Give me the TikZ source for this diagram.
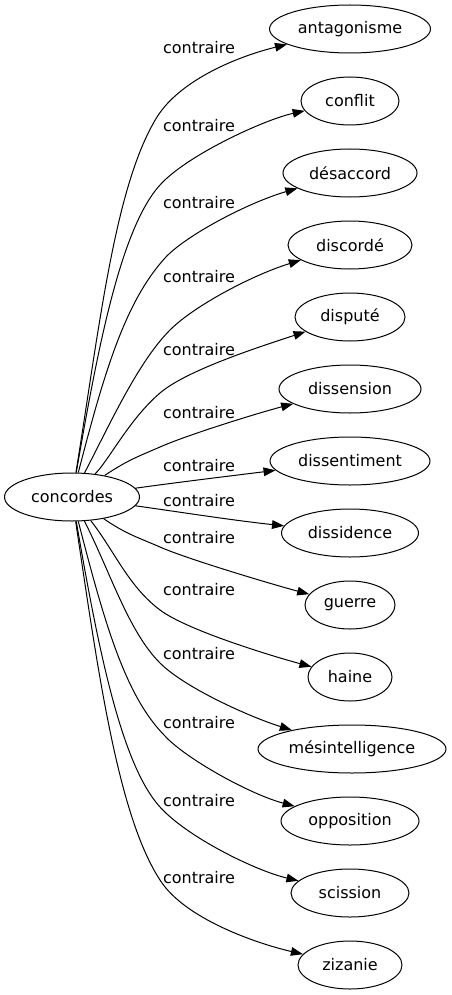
\documentclass[tikz,border=0pt]{standalone}
\usepackage{fontspec}
\setmainfont{DejaVu Sans}
\usetikzlibrary{shapes.geometric,arrows.meta}
\begin{document}
\begin{tikzpicture}[x=0.75pt,y=-0.75pt,
  nd/.style={draw,ellipse,inner sep=0pt,minimum height=36pt,line width=0.75pt,font=\fontsize{12pt}{14pt}\selectfont},
  lbl/.style={font=\fontsize{12pt}{14pt}\selectfont,inner sep=0pt},
  edge/.style={line width=0.75pt,-{Triangle[length=9pt,width=6.5pt]}}]
\useasboundingbox (0,0) rectangle (452,995);
\node[nd,minimum width=101.25pt] (c) at (72,497) {concordes};
\node[nd,minimum width=120.75pt] (t1) at (350,29) {antagonisme};
\node[nd,minimum width=73.5pt] (t2) at (350,101) {conflit};
\node[nd,minimum width=100.5pt] (t3) at (350,173) {désaccord};
\node[nd,minimum width=93pt] (t4) at (350,245) {discordé};
\node[nd,minimum width=82.5pt] (t5) at (350,317) {disputé};
\node[nd,minimum width=106.5pt] (t6) at (350,389) {dissension};
\node[nd,minimum width=120pt] (t7) at (350,461) {dissentiment};
\node[nd,minimum width=102.75pt] (t8) at (350,533) {dissidence};
\node[nd,minimum width=67.5pt] (t9) at (350,605) {guerre};
\node[nd,minimum width=63pt] (t10) at (350,677) {haine};
\node[nd,minimum width=141pt] (t11) at (352,749) {mésintelligence};
\node[nd,minimum width=103.5pt] (t12) at (350,821) {opposition};
\node[nd,minimum width=88.5pt] (t13) at (350,893) {scission};
\node[nd,minimum width=78pt] (t14) at (350,965) {zizanie};
% labels
\node[lbl] (l1) at (199,48) {contraire};
\node[lbl] (l2) at (199,126) {contraire};
\node[lbl] (l3) at (199,203) {contraire};
\node[lbl] (l4) at (199,277) {contraire};
\node[lbl] (l5) at (199,350) {contraire};
\node[lbl] (l6) at (199,413) {contraire};
\node[lbl] (l7) at (199,466) {contraire};
\node[lbl] (l8) at (199,501) {contraire};
\node[lbl] (l9) at (199,538) {contraire};
\node[lbl] (l10) at (199,590) {contraire};
\node[lbl] (l11) at (199,654) {contraire};
\node[lbl] (l12) at (199,723) {contraire};
\node[lbl] (l13) at (199,801) {contraire};
\node[lbl] (l14) at (199,878) {contraire};
% edges
\draw[edge] (c) .. controls (100,323) and (115,185) .. (157,117) .. controls (181,79) and (239.5,56) .. (t1);
\draw[edge] (c) .. controls (97,353) and (120,229) .. (160,185) .. controls (187,155) and (264.7,119.5) .. (t2);
\draw[edge] (c) .. controls (104,373) and (125,302) .. (165,258) .. controls (185,236) and (247,203) .. (t3);
\draw[edge] (c) .. controls (110,424) and (138,362) .. (170,330) .. controls (195,305) and (254,274.5) .. (t4);
\draw[edge] (c) .. controls (109,460) and (129.5,419) .. (160,393) .. controls (186.7,370) and (262,346) .. (t5);
\draw[edge] (c) .. controls (128,460) and (137,457) .. (160,447) .. controls (187,435) and (258,413) .. (t6);
\draw[edge] (c) .. controls (180,482) and (230,476) .. (t7);
\draw[edge] (c) .. controls (180,512) and (230,520) .. (t8);
\draw[edge] (c) .. controls (126,534) and (137,537) .. (160,547) .. controls (187,559) and (274.5,585) .. (t9);
\draw[edge] (c) .. controls (114,550) and (128,586) .. (160,610) .. controls (188,631) and (277,657.5) .. (t10);
\draw[edge] (c) .. controls (110,571) and (128,631) .. (160,663) .. controls (185,688) and (250,717) .. (t11);
\draw[edge] (c) .. controls (104,621) and (125,696) .. (165,736) .. controls (185,758) and (249,794) .. (t12);
\draw[edge] (c) .. controls (97,641) and (120,763) .. (160,807) .. controls (187,837) and (255,870.5) .. (t13);
\draw[edge] (c) .. controls (98,671) and (117.6,815) .. (160,880) .. controls (184,918) and (254.5,943) .. (t14);
\end{tikzpicture}
\end{document}
